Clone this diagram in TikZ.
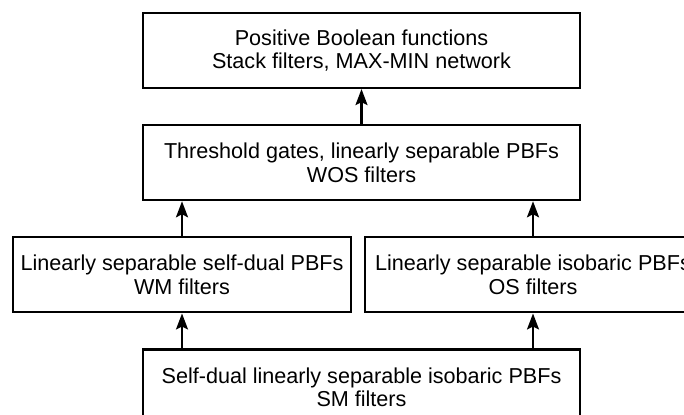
\documentclass[tikz,border=0pt]{standalone}
\usepackage{fontspec}
\setmainfont{Liberation Sans}
\usetikzlibrary{positioning,arrows.meta}
\begin{document}
\begin{tikzpicture}
[x=0.5pt, y=0.5pt, node distance=17.5pt, font=\fontsize{10.8}{11.8}\selectfont, >={Stealth[length=8pt,width=6pt,inset=1.5pt]}]
\tikzstyle{box}=[rectangle, draw, line width=1.1pt, align=center, minimum height=37.5pt, inner sep=0pt]
\tikzstyle{link}=[->, line width=1.1pt]
\useasboundingbox (0,0) rectangle (684,415);
\node[box, minimum width=218.5pt]	(pbf)	at (361.5,364.5)	{Positive Boolean functions\\Stack filters, MAX-MIN network};
\node[box, minimum width=218.5pt]	(wos)	[below=of pbf]	{Threshold gates, linearly separable PBFs\\WOS filters};
\node[box, minimum width=169pt]	(wm)	[below=of wos, xshift=-89.75pt]	{Linearly separable self-dual PBFs\\WM filters};
\node[box, minimum width=168pt]	(os)	[below=of wos, xshift=85.75pt]	{Linearly separable isobaric PBFs\\OS filters};
\node[box, minimum width=218.5pt]	(sm)	[below=of wm, xshift=89.75pt]	{Self-dual linearly separable isobaric PBFs\\SM filters};

\draw[link]	(wos) -- (pbf);
\draw[link]	(wm) -- (wm |- wos.south);
\draw[link]	(os) -- (os |- wos.south);
\draw[link]	(sm.north -| wm) -- (wm);
\draw[link]	(sm.north -| os) -- (os);
\end{tikzpicture}
\end{document}
